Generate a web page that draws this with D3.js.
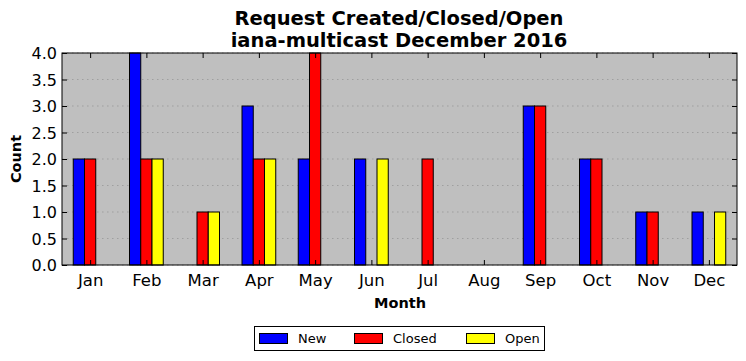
<!DOCTYPE html>
<html><head><meta charset="utf-8">
<script src="https://cdn.jsdelivr.net/npm/d3@7"></script>
<style>body{margin:0;background:#fff}svg{display:block}</style>
</head><body>
<svg id="c" width="746" height="361"></svg>
<script>
const months = ["Jan","Feb","Mar","Apr","May","Jun","Jul","Aug","Sep","Oct","Nov","Dec"];
const newVals = [2,4,0,3,2,2,0,0,3,2,1,1];
const closedVals = [2,2,1,2,4,0,2,0,3,2,1,0];
const openVals = [0,2,1,2,0,2,0,0,0,0,0,1];
const seriesNames = ["New","Closed","Open"];
const seriesColors = ["#0000ff","#ff0000","#ffff00"];
const yTicks = [0,0.5,1,1.5,2,2.5,3,3.5,4];

const svg = d3.select("#c");
const L=62,R=737,T=53,B=265;
const font = "DejaVu Sans, sans-serif";
const x = d3.scaleLinear().domain([-0.5,11.5]).range([L,R]);
const y = d3.scaleLinear().domain([0,4]).range([B,T]);

svg.append("rect").attr("x",L).attr("y",T).attr("width",R-L).attr("height",B-T).attr("fill","#bfbfbf");
// grid
svg.append("g").selectAll("line").data(yTicks).join("line")
  .attr("x1",L).attr("x2",R).attr("y1",d=>y(d)).attr("y2",d=>y(d))
  .attr("stroke","#8a8a8a").attr("stroke-width",0.6).attr("stroke-dasharray","1.5,3.5");

const series=[newVals,closedVals,openVals];
const w=0.2;
series.forEach((vals,s)=>{
  svg.append("g").selectAll("rect").data(vals).join("rect")
    .attr("x",(d,i)=>x(i-0.3+s*w))
    .attr("width",x(w)-x(0))
    .attr("y",d=>y(d))
    .attr("height",d=>y(0)-y(d))
    .attr("fill",seriesColors[s]).attr("stroke","#000").attr("stroke-width",1);
});

// axes with inward ticks
const xb = d3.axisBottom(x).tickValues(d3.range(12)).tickFormat(i=>months[i]).tickSize(-5).tickPadding(9);
const gx = svg.append("g").attr("transform",`translate(0,${B})`).call(xb);
const xt = d3.axisTop(x).tickValues(d3.range(12)).tickFormat("").tickSize(-5);
const gxt = svg.append("g").attr("transform",`translate(0,${T})`).call(xt);
const yl = d3.axisLeft(y).tickValues(yTicks).tickFormat(d3.format(".1f")).tickSize(-5).tickPadding(5);
const gy = svg.append("g").attr("transform",`translate(${L},0)`).call(yl);
const yr = d3.axisRight(y).tickValues(yTicks).tickFormat("").tickSize(-5);
const gyr = svg.append("g").attr("transform",`translate(${R},0)`).call(yr);
[gx,gxt,gy,gyr].forEach(g=>{g.select(".domain").remove();g.selectAll("line").attr("stroke","#000");
  g.selectAll("text").attr("font-family",font).attr("font-size",16.5).attr("fill","#000");});
gy.selectAll("text").attr("dy","0.35em").attr("font-size",16);
svg.append("rect").attr("x",L).attr("y",T).attr("width",R-L).attr("height",B-T).attr("fill","none").attr("stroke","#000").attr("stroke-width",1);

svg.append("text").attr("x",399).attr("y",25).attr("text-anchor","middle").attr("font-family",font).attr("font-weight","bold").attr("font-size",19.5).text("Request Created/Closed/Open");
svg.append("text").attr("x",399).attr("y",47).attr("text-anchor","middle").attr("font-family",font).attr("font-weight","bold").attr("font-size",19.5).text("iana-multicast December 2016");
svg.append("text").attr("x",400).attr("y",308).attr("text-anchor","middle").attr("font-family",font).attr("font-weight","bold").attr("font-size",14.5).text("Month");
svg.append("text").attr("transform",`translate(21,${(T+B)/2}) rotate(-90)`).attr("text-anchor","middle").attr("font-family",font).attr("font-weight","bold").attr("font-size",14.5).text("Count");

// legend
const lg = svg.append("g");
lg.append("rect").attr("x",254.5).attr("y",326.5).attr("width",290).attr("height",24).attr("fill","#fff").attr("stroke","#000");
const lx=[259,354,466];
seriesNames.forEach((n,i)=>{
  const xo=lx[i];
  lg.append("rect").attr("x",xo+0.5).attr("y",333.5).attr("width",28).attr("height",10).attr("fill",seriesColors[i]).attr("stroke","#000");
  lg.append("text").attr("x",xo+39).attr("y",343).attr("font-family",font).attr("font-size",13).text(n);
});
</script>
</body></html>
